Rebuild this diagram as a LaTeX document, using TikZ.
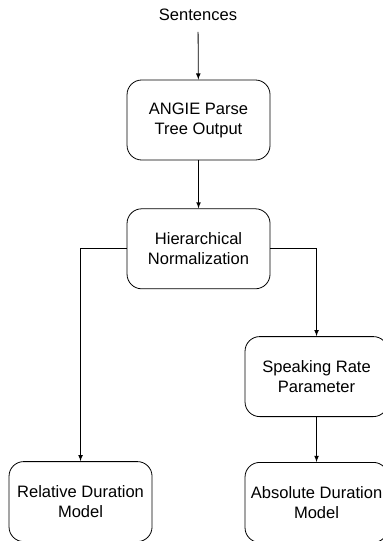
\documentclass[tikz,border=0pt]{standalone}
\usepackage{fontspec}
\setmainfont{Liberation Sans}
\usetikzlibrary{positioning, arrows}

\begin{document}
\begin{tikzpicture}[stage/.style={rectangle, draw, rounded corners=11pt,
      minimum width=107.25pt, minimum height=60pt, align=center,
      font=\fontsize{12.4}{15}\selectfont}, >=latex, line width=0.6pt,
      node distance=36pt]

    \useasboundingbox (0,0) rectangle (286.5pt,-405.75pt);

    \node[stage] (angie) at (148.9pt,-90pt) {ANGIE Parse\\Tree Output};
    \node[inner sep=8pt, font=\fontsize{12.4}{15}\selectfont] (sent) at (148.5pt,-11.25pt) {Sentences};
    \node[stage,below=of angie] (norm) {Hierarchical\\Normalization};
    \node[stage,below=35.25pt of norm, xshift=88.5pt] (rate) {Speaking Rate\\Parameter};
    \node[stage,below=129pt of norm, xshift=-88.5pt] (rel) {Relative Duration\\Model};
    \node[stage,below=33.75pt of rate] (abs) {Absolute Duration\\Model};

    \draw[->] (sent) -- (angie);
    \draw[->] (angie) -- (norm);
    \draw[->] (norm.west) -| (rel);
    \draw[->] (norm.east) -| (rate);
    \draw[->] (rate) -- (abs);
  \end{tikzpicture}
\end{document}
